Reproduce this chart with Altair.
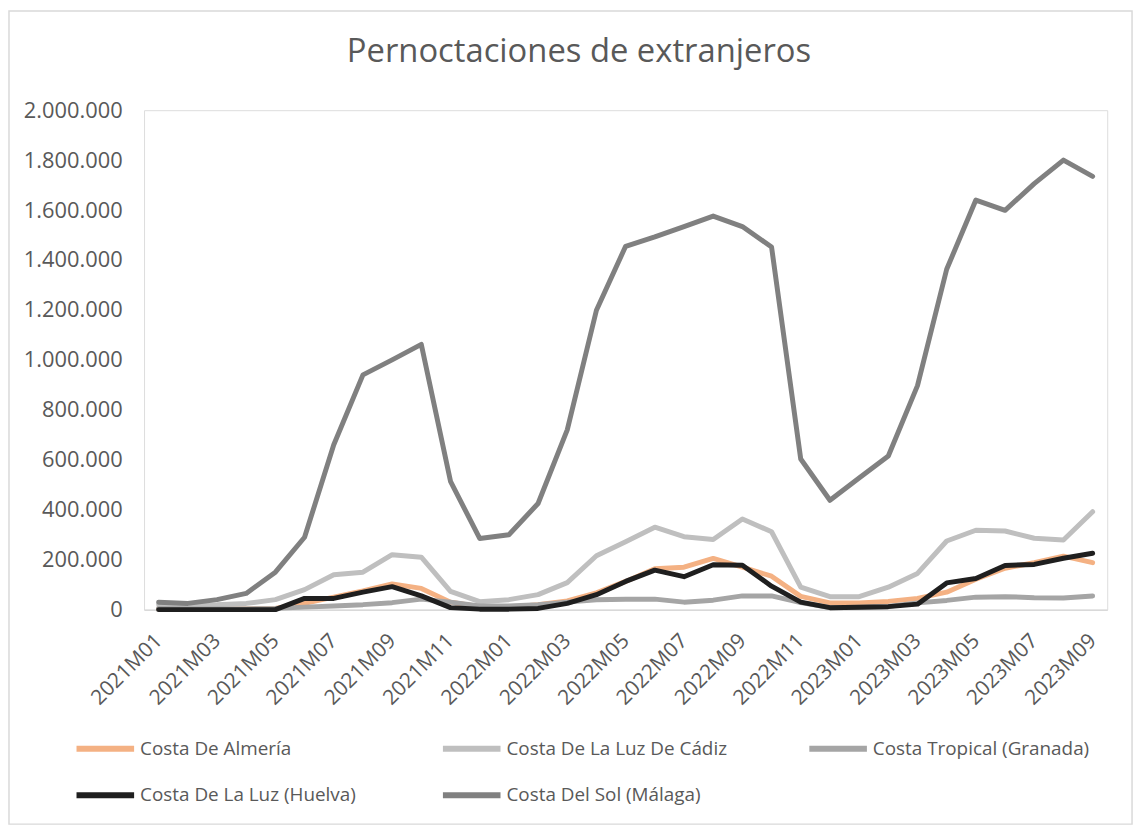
import altair as alt
import pandas as pd

months = ["2021M01", "2021M02", "2021M03", "2021M04", "2021M05", "2021M06",
          "2021M07", "2021M08", "2021M09", "2021M10", "2021M11", "2021M12",
          "2022M01", "2022M02", "2022M03", "2022M04", "2022M05", "2022M06",
          "2022M07", "2022M08", "2022M09", "2022M10", "2022M11", "2022M12",
          "2023M01", "2023M02", "2023M03", "2023M04", "2023M05", "2023M06",
          "2023M07", "2023M08", "2023M09"]

tick_labels = ["2021M01", "2021M03", "2021M05", "2021M07", "2021M09", "2021M11",
               "2022M01", "2022M03", "2022M05", "2022M07", "2022M09", "2022M11",
               "2023M01", "2023M03", "2023M05", "2023M07", "2023M09"]

series_names = ["Costa De Almería", "Costa De La Luz De Cádiz", "Costa Tropical (Granada)",
                "Costa De La Luz (Huelva)", "Costa Del Sol (Málaga)"]
series_colors = ["#F4B183", "#BFBFBF", "#A5A5A5", "#1F1F1F", "#808080"]

almeria = [3000, 2000, 2000, 3000, 5000, 25000, 50000, 75000, 103000, 85000, 30000, 12000,
           10000, 20000, 35000, 67000, 113000, 164000, 170000, 205000, 170000, 134000, 53000, 27000,
           27000, 33000, 45000, 70000, 122000, 166000, 188000, 214000, 188000]
cadiz = [20000, 18000, 20000, 25000, 40000, 80000, 140000, 150000, 220000, 210000, 73000, 32000,
         40000, 60000, 108000, 216000, 272000, 330000, 292000, 281000, 363000, 312000, 90000, 52000,
         52000, 90000, 145000, 275000, 318000, 315000, 286000, 279000, 392000]
granada = [5000, 3000, 3000, 3000, 5000, 10000, 15000, 20000, 28000, 42000, 30000, 15000,
           15000, 20000, 30000, 40000, 42000, 42000, 30000, 38000, 55000, 55000, 28000, 8000,
           10000, 13000, 27000, 37000, 50000, 52000, 48000, 47000, 55000]
huelva = [0, 0, 0, 0, 0, 45000, 45000, 70000, 92000, 55000, 8000, 2000,
          2000, 5000, 25000, 60000, 113000, 158000, 132000, 180000, 178000, 94000, 30000, 8000,
          10000, 12000, 22000, 107000, 125000, 177000, 181000, 206000, 226000]
malaga = [30000, 25000, 40000, 65000, 150000, 290000, 660000, 940000, 1000000, 1062000, 514000, 285000,
          300000, 425000, 720000, 1199000, 1455000, 1493000, 1534000, 1576000, 1534000, 1452000, 603000, 438000,
          527000, 615000, 897000, 1363000, 1640000, 1599000, 1706000, 1800000, 1735000]

y_ticks = [0, 200000, 400000, 600000, 800000, 1000000, 1200000, 1400000, 1600000, 1800000, 2000000]

rows = []
for name, vals in zip(series_names, [almeria, cadiz, granada, huelva, malaga]):
    for order, (m, v) in enumerate(zip(months, vals)):
        rows.append({"serie": name, "mes": m, "valor": v, "orden": order})
df = pd.DataFrame(rows)

FONT = "Open Sans"
TXT = "#595959"
W, H = 970, 503

lines = alt.Chart(df).mark_line(strokeWidth=5, strokeJoin="round", strokeCap="round").encode(
    x=alt.X("mes:O", sort=months,
            scale=alt.Scale(type="point", padding=0.5),
            axis=alt.Axis(values=tick_labels, title=None, labelAngle=315, labelAlign="right",
                          labelBaseline="middle", labelPadding=28, ticks=False, grid=False,
                          domainColor="#D9D9D9", domainWidth=1.5,
                          labelFont=FONT, labelFontSize=21, labelColor=TXT)),
    y=alt.Y("valor:Q", scale=alt.Scale(domain=[0, 2000000], nice=False),
            axis=alt.Axis(values=y_ticks, title=None, domain=False, ticks=False, grid=False,
                          labelPadding=22, labelFont=FONT, labelFontSize=22, labelColor=TXT,
                          labelExpr="replace(format(datum.value, ','), regexp(',', 'g'), '.')")),
    color=alt.Color("serie:N", sort=series_names,
                    scale=alt.Scale(domain=series_names, range=series_colors),
                    legend=alt.Legend(title=None, orient="none", legendX=-71, legendY=611,
                                      direction="horizontal", columns=3, gridAlign="all",
                                      symbolType="stroke", symbolSize=3364, symbolStrokeWidth=6,
                                      labelFont=FONT, labelFontSize=19, labelColor=TXT,
                                      labelOffset=3, labelLimit=400, columnPadding=70,
                                      rowPadding=3, padding=0)),
    detail="serie:N",
    order="orden:Q",
)

frame_df = pd.DataFrame({"k": [0]})
frame = alt.Chart(frame_df).mark_rect(fillOpacity=0, stroke="#D9D9D9", strokeWidth=1.5).encode(
    x=alt.value(-136), x2=alt.value(995), y=alt.value(-100), y2=alt.value(719)
)

chart = alt.layer(frame, lines).properties(
    width=W, height=H,
    title=alt.TitleParams("Pernoctaciones de extranjeros", font=FONT, fontSize=33,
                          fontWeight="normal", color=TXT, anchor="middle", dx=-47,
                          baseline="alphabetic", offset=-85),
    autosize=alt.AutoSizeParams(type="none"),
    padding={"left": 137, "top": 100, "right": 30, "bottom": 217},
).configure_view(stroke=None).configure(background="white")

chart.save("out.html", embed_options={"renderer": "svg", "actions": False})
